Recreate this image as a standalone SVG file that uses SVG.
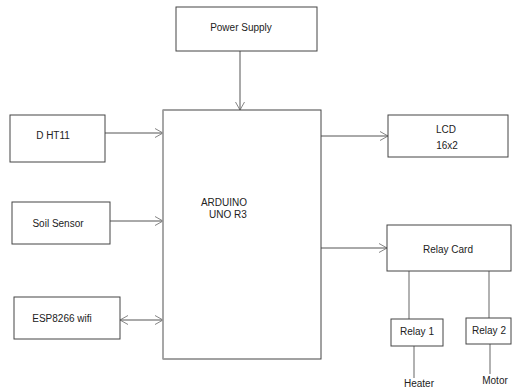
<svg xmlns="http://www.w3.org/2000/svg" width="512" height="389" viewBox="0 0 512 389">
<defs>
<style>
.box{fill:#fff;stroke:#444;stroke-width:1}
.t{font-family:"Liberation Sans",Arial,sans-serif;font-size:10px;fill:#222;text-anchor:middle}
.c{stroke:#555;stroke-width:1;fill:none}
.g{stroke:#999;stroke-width:1.5;fill:none}
</style>
<marker id="ah" markerWidth="10" markerHeight="10" refX="9" refY="5" orient="auto-start-reverse" markerUnits="userSpaceOnUse">
<path d="M1,0.5 L9,5 L1,9.5" fill="none" stroke="#666" stroke-width="0.8"/>
</marker>
</defs>
<rect width="512" height="389" fill="#fff"/>
<g id="connectors">
<line class="c" x1="240" y1="51" x2="240" y2="110" marker-end="url(#ah)"/>
<line class="c" x1="105" y1="133" x2="163" y2="133" marker-end="url(#ah)"/>
<line class="c" x1="110" y1="221" x2="163" y2="221" marker-end="url(#ah)"/>
<line class="c" x1="120" y1="320" x2="163" y2="320" marker-start="url(#ah)" marker-end="url(#ah)"/>
<line class="c" x1="321" y1="136" x2="388" y2="136" marker-end="url(#ah)"/>
<line class="c" x1="321" y1="248" x2="387" y2="248" marker-end="url(#ah)"/>
<line class="g" x1="409" y1="271" x2="409" y2="319"/>
<line class="g" x1="489" y1="271" x2="489" y2="318"/>
<line class="g" x1="414" y1="346" x2="414" y2="378"/>
<line class="g" x1="490" y1="344" x2="490" y2="374"/>
</g>
<g id="power-supply">
<rect class="box" x="176" y="7" width="141" height="44"/>
<text class="t" x="241" y="31">Power Supply</text>
</g>
<g id="arduino">
<rect class="box" x="163" y="110" width="158" height="249"/>
<line x1="163" y1="110" x2="163" y2="359" stroke="#aaa" stroke-width="1.5"/>
<text class="t" x="224" y="206">ARDUINO</text>
<text class="t" x="228" y="218">UNO R3</text>
</g>
<g id="dht11">
<rect class="box" x="10" y="115" width="95" height="47"/>
<text class="t" x="53" y="139">D HT11</text>
</g>
<g id="soil-sensor">
<rect class="box" x="12" y="202" width="98" height="42"/>
<text class="t" x="58" y="227">Soil Sensor</text>
</g>
<g id="esp8266">
<rect class="box" x="14" y="297" width="106" height="42"/>
<text class="t" x="62" y="322">ESP8266 wifi</text>
</g>
<g id="lcd">
<rect class="box" x="388" y="115" width="120" height="42"/>
<text class="t" x="446" y="133">LCD</text>
<text class="t" x="447" y="149">16x2</text>
</g>
<g id="relay-card">
<rect class="box" x="387" y="225" width="124" height="46"/>
<text class="t" x="448" y="253">Relay Card</text>
</g>
<g id="relay1">
<rect class="box" x="391" y="319" width="52" height="27"/>
<text class="t" x="417" y="335">Relay 1</text>
</g>
<g id="relay2">
<rect class="box" x="466" y="318" width="45" height="26"/>
<text class="t" x="489" y="334">Relay 2</text>
</g>
<g id="labels">
<text class="t" x="419" y="387">Heater</text>
<text class="t" x="495" y="384">Motor</text>
</g>
</svg>
